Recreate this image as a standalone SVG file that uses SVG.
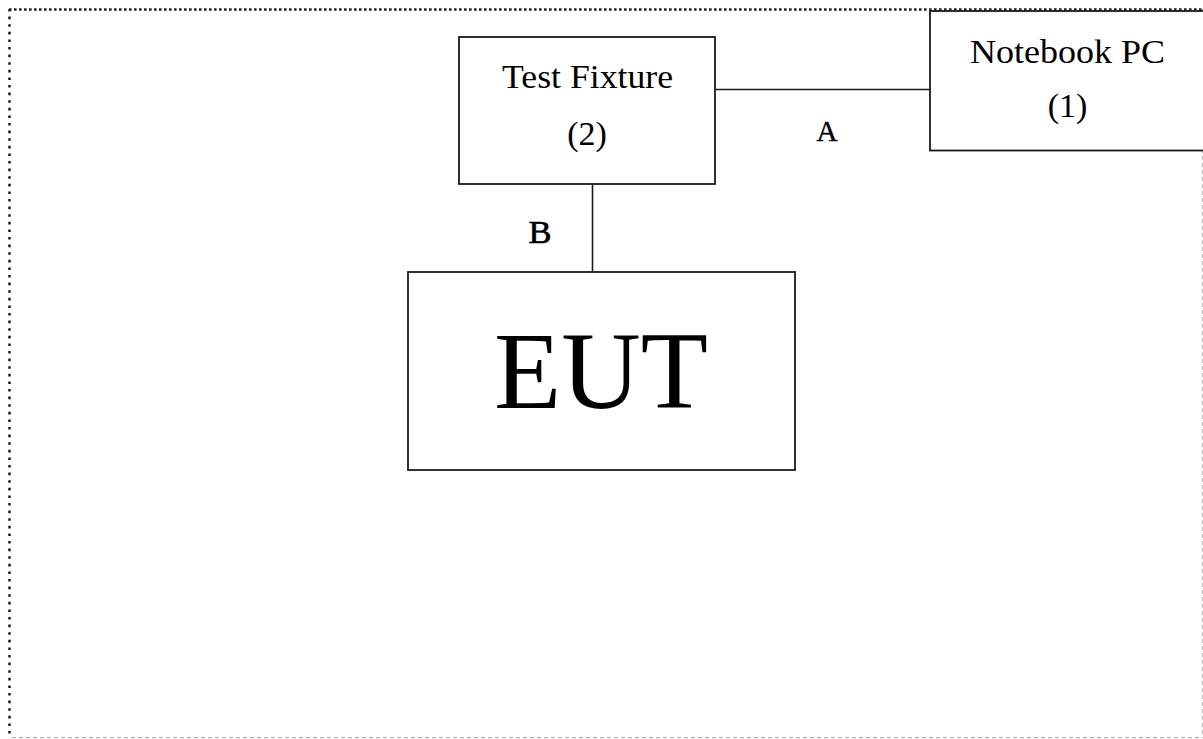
<svg xmlns="http://www.w3.org/2000/svg" width="1203" height="739" viewBox="0 0 1203 739">
<style>
.box{fill:#fff;stroke:#1a1a1a;stroke-width:1.8}
.lbl{font-family:"Liberation Serif","Times New Roman",serif;fill:#000;text-anchor:middle}
.conn{stroke:#1a1a1a;stroke-width:1.6;fill:none}
</style>
<rect width="1203" height="739" fill="#fff"/>
<g id="frame">
<line x1="9" y1="9.5" x2="1203" y2="9.5" stroke="#222" stroke-width="2.6" stroke-dasharray="2.6 2.4"/>
<line x1="9.5" y1="9" x2="9.5" y2="738" stroke="#222" stroke-width="2.6" stroke-dasharray="2.6 5"/>
<line x1="12" y1="737.5" x2="1203" y2="737.5" stroke="#aaa" stroke-width="1.2" stroke-dasharray="4 3"/>
<line x1="1202.5" y1="9" x2="1202.5" y2="738" stroke="#bbb" stroke-width="1.2" stroke-dasharray="4 3"/>
</g>
<g id="connectors">
<line class="conn" x1="715" y1="89.5" x2="930" y2="89.5"/>
<line class="conn" x1="592.5" y1="184" x2="592.5" y2="272"/>
<text class="lbl" x="827" y="141" font-size="29" stroke="#000" stroke-width="0.4">A</text>
<text class="lbl" x="540" y="243" font-size="31" stroke="#000" stroke-width="0.6" textLength="23" lengthAdjust="spacingAndGlyphs">B</text>
</g>
<g id="notebook">
<rect class="box" x="930" y="11" width="280" height="139.5"/>
<text class="lbl" x="1067.5" y="63" font-size="34" textLength="195" lengthAdjust="spacingAndGlyphs">Notebook PC</text>
<text class="lbl" x="1067.5" y="117" font-size="34">(1)</text>
</g>
<g id="fixture">
<rect class="box" x="459" y="37" width="256" height="147"/>
<text class="lbl" x="587.5" y="88" font-size="34" textLength="171" lengthAdjust="spacingAndGlyphs">Test Fixture</text>
<text class="lbl" x="587" y="145" font-size="34">(2)</text>
</g>
<g id="eut">
<rect class="box" x="408" y="272" width="387" height="198"/>
<text class="lbl" x="601" y="408" font-size="110">EUT</text>
</g>
</svg>
